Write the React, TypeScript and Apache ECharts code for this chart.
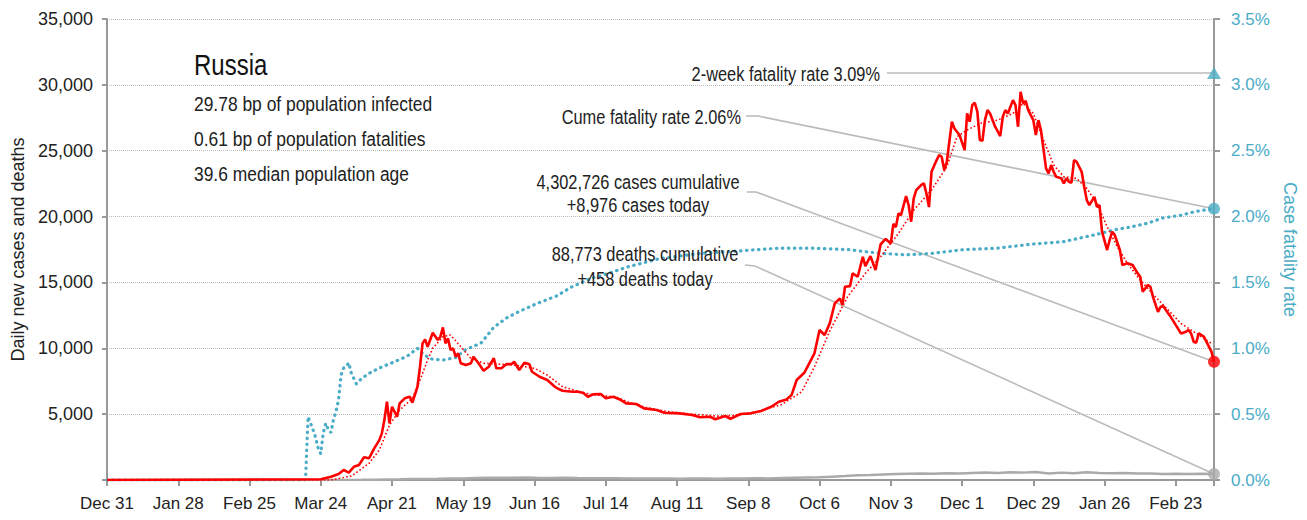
import React, { useEffect, useRef } from "react";
import * as echarts from "echarts";

const FONT = "'Liberation Sans', Arial, sans-serif";
const RED = "#ff0000";
const TEAL = "#4bacc6";
const GREY = "#aaaaaa";
const AXIS = "#999999";

// day index 0 = Dec 31, 2019; ticks every 28 days
const tickLabels = [
  "Dec 31", "Jan 28", "Feb 25", "Mar 24", "Apr 21", "May 19", "Jun 16", "Jul 14",
  "Aug 11", "Sep 8", "Oct 6", "Nov 3", "Dec 1", "Dec 29", "Jan 26", "Feb 23",
];
const lastDay = 435;

const country = "Russia";
const infoLines = [
  "29.78 bp of population infected",
  "0.61 bp of population fatalities",
  "39.6 median population age",
];
const twoWeekRate = 3.09;
const cumeRate = 2.06;
const casesCumulative = "4,302,726";
const casesToday = 8976;
const deathsCumulative = "88,773";
const deathsToday = 458;

// daily new cases [day, cases]
const cases: [number, number][] = [
  [0, 0], [84, 60], [86, 150], [88, 250], [91, 450], [93, 760], [95, 560], [97, 1000], [99, 1140],
  [101, 1720], [103, 1650], [105, 2400], [107, 3030], [108, 3540], [109, 4550], [110, 5940],
  [111, 4300], [112, 5560], [114, 4800], [115, 5820], [117, 6200], [119, 6320], [120, 5870],
  [122, 7080], [123, 8600], [124, 10370], [125, 10680], [126, 10120], [128, 11180], [130, 10630],
  [131, 10880], [132, 11590], [133, 10370], [134, 10750], [135, 9870], [136, 10000], [137, 9360],
  [138, 9620], [139, 8860], [141, 8730], [143, 8860], [144, 9360], [146, 8860], [148, 8300],
  [150, 8600], [152, 9240], [153, 8480], [155, 8480], [157, 8800], [159, 8800], [160, 8980],
  [162, 8350], [164, 8900], [166, 8780], [167, 8220], [170, 7840], [173, 7590], [176, 7080],
  [177, 6960], [179, 6780], [183, 6700], [185, 6700], [187, 6630], [189, 6320], [191, 6500],
  [194, 6530], [196, 6200], [199, 6320], [202, 6070], [204, 5820], [208, 5770], [211, 5440],
  [216, 5310], [219, 5110], [225, 5060], [230, 4930], [233, 4760], [237, 4800], [239, 4610],
  [243, 4860], [245, 4650], [249, 5010], [253, 5060], [257, 5240], [261, 5560], [264, 5940],
  [267, 6120], [269, 6450], [271, 7590], [274, 8140], [278, 9620], [280, 11390], [282, 11010],
  [284, 11890], [286, 13410], [288, 13790], [289, 13280], [290, 14670], [292, 14720], [293, 15690],
  [295, 15430], [297, 16950], [298, 16240], [300, 17000], [302, 15940], [304, 17900], [306, 18300],
  [308, 17960], [309, 19450], [310, 19200], [311, 20240], [312, 20110], [314, 21550], [315, 20870],
  [316, 19610], [317, 21380], [318, 22010], [320, 22400], [321, 22520], [322, 21760], [323, 20720],
  [324, 23400], [326, 24290], [327, 24670], [328, 24540], [329, 23530], [330, 24160], [332, 27200],
  [333, 26690], [335, 26190], [337, 25050], [338, 27830], [339, 27200], [340, 28460], [341, 28640],
  [342, 27960], [343, 25810], [344, 25750], [345, 27320], [346, 28080], [347, 27830], [349, 26820],
  [351, 26110], [352, 27580], [353, 28080], [354, 27830], [356, 28840], [357, 28460], [358, 26820],
  [359, 29470], [360, 28590], [361, 28790], [362, 28080], [364, 27320], [365, 26190], [366, 27320],
  [367, 26570], [369, 23660], [370, 23280], [371, 23910], [372, 23400], [373, 23020], [375, 22900],
  [376, 22520], [377, 22900], [378, 22640], [379, 22570], [380, 24290], [381, 24160], [383, 23400],
  [384, 22260], [385, 21250], [386, 20870], [388, 21500], [389, 20740], [390, 20870], [391, 18850],
  [393, 17460], [394, 18220], [395, 18850], [396, 18600], [398, 17460], [399, 16320], [401, 16450],
  [403, 16320], [405, 15690], [406, 15430], [407, 14290], [409, 14800], [410, 14670], [411, 13910],
  [413, 12770], [414, 13150], [415, 13210], [417, 12650], [418, 12390], [420, 11760], [422, 11130],
  [424, 11260], [425, 11390], [426, 11130], [427, 10500], [428, 10420], [429, 11130], [431, 10880],
  [432, 10500], [434, 9740], [435, 8976],
];

// smoothed (trend) cases [day, cases]
const trend: [number, number][] = [
  [0, 0], [88, 0], [92, 150], [96, 300], [99, 700], [103, 1270], [107, 2280], [111, 4170],
  [115, 5310], [120, 6200], [123, 7590], [126, 9110], [128, 10000], [132, 10880], [135, 11010],
  [139, 10120], [143, 9240], [148, 8860], [160, 8730], [168, 8480], [173, 7970], [179, 7080],
  [186, 6700], [190, 6500], [200, 6300], [205, 5900], [212, 5500], [220, 5200], [230, 5000],
  [240, 4850], [246, 4900], [250, 5000], [256, 5200], [260, 5450], [265, 5720], [270, 6320],
  [273, 6700], [278, 8600], [284, 11300], [291, 13910], [298, 15690], [304, 16950], [311, 18720],
  [317, 20490], [324, 22010], [330, 23780], [334, 26060], [338, 26570], [343, 27070], [350, 27320],
  [356, 27830], [360, 28590], [364, 27830], [368, 25810], [372, 23910], [376, 23020], [381, 22900],
  [385, 22140], [389, 21000], [393, 19230], [397, 17710], [401, 16450], [406, 15180], [412, 13910],
  [417, 12900], [422, 11890], [427, 11260], [434, 10370],
];

// daily deaths [day, deaths]
const deaths: [number, number][] = [
  [0, 0], [84, 0], [90, 2], [95, 5], [100, 12], [105, 20], [110, 35], [115, 50], [120, 70],
  [125, 85], [130, 95], [135, 110], [140, 120], [145, 150], [150, 170], [155, 180], [160, 165],
  [165, 185], [170, 160], [175, 150], [180, 170], [185, 150], [190, 140], [195, 135], [200, 125],
  [205, 115], [210, 110], [215, 105], [220, 115], [225, 100], [230, 105], [235, 110], [240, 100],
  [245, 120], [250, 115], [255, 130], [260, 120], [265, 150], [270, 170], [275, 185], [280, 200],
  [285, 250], [290, 300], [295, 360], [300, 380], [305, 420], [310, 460], [315, 480], [320, 500],
  [325, 470], [330, 520], [335, 490], [340, 540], [345, 560], [350, 530], [355, 580], [360, 560],
  [365, 600], [370, 500], [375, 560], [380, 520], [385, 580], [390, 540], [395, 520], [400, 530],
  [405, 490], [410, 500], [415, 460], [420, 480], [425, 450], [430, 470], [435, 458],
];

// case fatality rate % [day, rate]
const cfr: [number, number][] = [
  [0, 0], [78, 0], [79, 0.48], [80, 0.43], [81, 0.38], [82, 0.32], [83, 0.24], [84, 0.2],
  [85, 0.36], [86, 0.43], [87, 0.38], [88, 0.36], [89, 0.46], [90, 0.52], [91, 0.61], [92, 0.8],
  [93, 0.85], [94, 0.86], [95, 0.89], [96, 0.81], [98, 0.73], [100, 0.77], [103, 0.81],
  [107, 0.85], [112, 0.89], [118, 0.94], [122, 1.0], [124, 0.96], [127, 0.92], [132, 0.91],
  [137, 0.93], [141, 0.99], [147, 1.04], [152, 1.16], [157, 1.23], [162, 1.28], [169, 1.34],
  [177, 1.4], [182, 1.46], [190, 1.53], [194, 1.55], [205, 1.62], [217, 1.68], [233, 1.72],
  [249, 1.74], [264, 1.76], [278, 1.76], [291, 1.75], [304, 1.72], [314, 1.71], [324, 1.72],
  [337, 1.75], [350, 1.76], [363, 1.79], [376, 1.81], [383, 1.84], [390, 1.87], [396, 1.9],
  [402, 1.92], [409, 1.95], [415, 1.99], [422, 2.01], [428, 2.04], [435, 2.06],
];

const fmtThousands = (v: number) => v.toLocaleString("en-US");

export default function App() {
  const ref = useRef<HTMLDivElement>(null);

  useEffect(() => {
    if (!ref.current) return;
    const chart = echarts.init(ref.current, null, { renderer: "svg" });
    const option: any = {
      animation: false,
      textStyle: { fontFamily: FONT },
      grid: { left: 107, right: 93, top: 19, bottom: 40, containLabel: false, outerBoundsMode: "none" },
      xAxis: {
        type: "value",
        min: 0,
        max: lastDay,
        interval: 28,
        axisLine: { show: true, lineStyle: { color: AXIS, width: 2 } },
        axisTick: { show: true, length: 6, lineStyle: { color: AXIS, width: 2 } },
        splitLine: { show: false },
        axisLabel: {
          margin: 15,
          fontSize: 17,
          color: "#222",
          fontFamily: FONT,
          formatter: (v: number) => (v % 28 === 0 ? tickLabels[v / 28] ?? "" : ""),
        },
      },
      yAxis: [
        {
          type: "value",
          min: 0,
          max: 35000,
          interval: 5000,
          name: "Daily new cases and deaths",
          nameLocation: "middle",
          nameGap: 80,
          nameRotate: 90,
          nameTextStyle: { fontSize: 18, color: "#222", fontFamily: FONT },
          axisLine: { show: true, lineStyle: { color: AXIS, width: 2 } },
          axisTick: { show: true, length: 5, lineStyle: { color: AXIS, width: 2 } },
          splitLine: { show: true, lineStyle: { color: "#bbbbbb", type: "dotted", width: 1 } },
          axisLabel: {
            margin: 14,
            fontSize: 18,
            color: "#222",
            fontFamily: FONT,
            formatter: (v: number) => (v === 0 ? "" : fmtThousands(v)),
          },
        },
        {
          type: "value",
          min: 0,
          max: 3.5,
          interval: 0.5,
          position: "right",
          name: "Case fatality rate",
          nameLocation: "middle",
          nameGap: 62,
          nameRotate: -90,
          nameTextStyle: { fontSize: 18, color: TEAL, fontFamily: FONT },
          axisLine: { show: true, lineStyle: { color: AXIS, width: 2 } },
          axisTick: { show: true, length: 6, lineStyle: { color: AXIS, width: 2 } },
          splitLine: { show: false },
          axisLabel: {
            margin: 17,
            fontSize: 17,
            color: TEAL,
            fontFamily: FONT,
            formatter: (v: number) => v.toFixed(1) + "%",
          },
        },
      ],
      series: [
        {
          type: "line",
          name: "Deaths",
          data: deaths,
          yAxisIndex: 0,
          symbol: "none",
          lineStyle: { color: GREY, width: 2.5 },
          z: 3,
        },
        {
          type: "line",
          name: "Case fatality rate",
          data: cfr,
          yAxisIndex: 1,
          symbol: "none",
          lineStyle: { color: TEAL, width: 3.2, type: [0.5, 5.5], cap: "round" },
          z: 4,
        },
        {
          type: "line",
          name: "Trend",
          data: trend,
          yAxisIndex: 0,
          symbol: "none",
          lineStyle: { color: RED, width: 1.6, type: [1.6, 2.2] },
          z: 5,
        },
        {
          type: "line",
          name: "Cases",
          data: cases,
          yAxisIndex: 0,
          symbol: "none",
          lineStyle: { color: RED, width: 2.6 },
          z: 6,
        },
        {
          type: "scatter",
          yAxisIndex: 0,
          data: [[lastDay, deathsToday]],
          symbol: "circle",
          symbolSize: 12,
          itemStyle: { color: GREY },
          z: 10,
        },
        {
          type: "scatter",
          yAxisIndex: 0,
          data: [[lastDay, casesToday]],
          symbol: "circle",
          symbolSize: 12,
          itemStyle: { color: RED },
          z: 10,
        },
        {
          type: "scatter",
          yAxisIndex: 1,
          data: [[lastDay, cumeRate]],
          symbol: "circle",
          symbolSize: 12,
          itemStyle: { color: TEAL },
          z: 10,
        },
        {
          type: "scatter",
          yAxisIndex: 1,
          data: [[lastDay, twoWeekRate]],
          symbol: "triangle",
          symbolSize: [14, 12],
          itemStyle: { color: TEAL },
          z: 10,
        },
      ],
    };
    chart.setOption(option);

    const px = (y: number, axis: number) =>
      chart.convertToPixel({ xAxisIndex: 0, yAxisIndex: axis }, [lastDay, y]) as number[];
    const pTwo = px(twoWeekRate, 1);
    const pCume = px(cumeRate, 1);
    const pCases = px(casesToday, 0);
    const pDeaths = px(deathsToday, 0);

    const txt = (
      text: string, x: number, y: number, size: number, align: string, sx: number, color = "#222",
    ) => ({
      type: "text",
      x,
      y,
      scaleX: sx,
      z: 20,
      silent: true,
      style: {
        text,
        fill: color,
        font: `${size}px ${FONT}`,
        textAlign: align,
        textVerticalAlign: "middle",
        align,
        verticalAlign: "middle",
      },
    });
    const leader = (pts: number[][]) => ({
      type: "polyline",
      z: 1,
      silent: true,
      shape: { points: pts },
      style: { stroke: "#bbbbbb", lineWidth: 1.6, fill: null },
    });

    chart.setOption({
      graphic: [
        leader([[887, 73], [pTwo[0], pTwo[1]]]),
        leader([[746, 116], [758, 116], [pCume[0], pCume[1]]]),
        leader([[747, 192], [756, 192], [pCases[0], pCases[1]]]),
        leader([[745, 265], [755, 266], [pDeaths[0], pDeaths[1]]]),
        txt(country, 194, 65, 30, "left", 0.8, "#111"),
        txt(infoLines[0], 194, 104, 21, "left", 0.83),
        txt(infoLines[1], 194, 139, 21, "left", 0.83),
        txt(infoLines[2], 194, 174, 21, "left", 0.83),
        txt(`2-week fatality rate ${twoWeekRate.toFixed(2)}%`, 880, 74, 21, "right", 0.78),
        txt(`Cume fatality rate ${cumeRate.toFixed(2)}%`, 741, 117, 21, "right", 0.78),
        txt(`${casesCumulative} cases cumulative`, 638, 182, 21, "center", 0.78),
        txt(`+${fmtThousands(casesToday)} cases today`, 638, 205, 21, "center", 0.78),
        txt(`${deathsCumulative} deaths cumulative`, 645, 254, 21, "center", 0.78),
        txt(`+${fmtThousands(deathsToday)} deaths today`, 645, 279, 21, "center", 0.78),
      ],
    });

    return () => chart.dispose();
  }, []);

  return (
    <div
      ref={ref}
      style={{ position: "fixed", left: 0, top: 0, width: 1307, height: 520, background: "#fff" }}
    />
  );
}
